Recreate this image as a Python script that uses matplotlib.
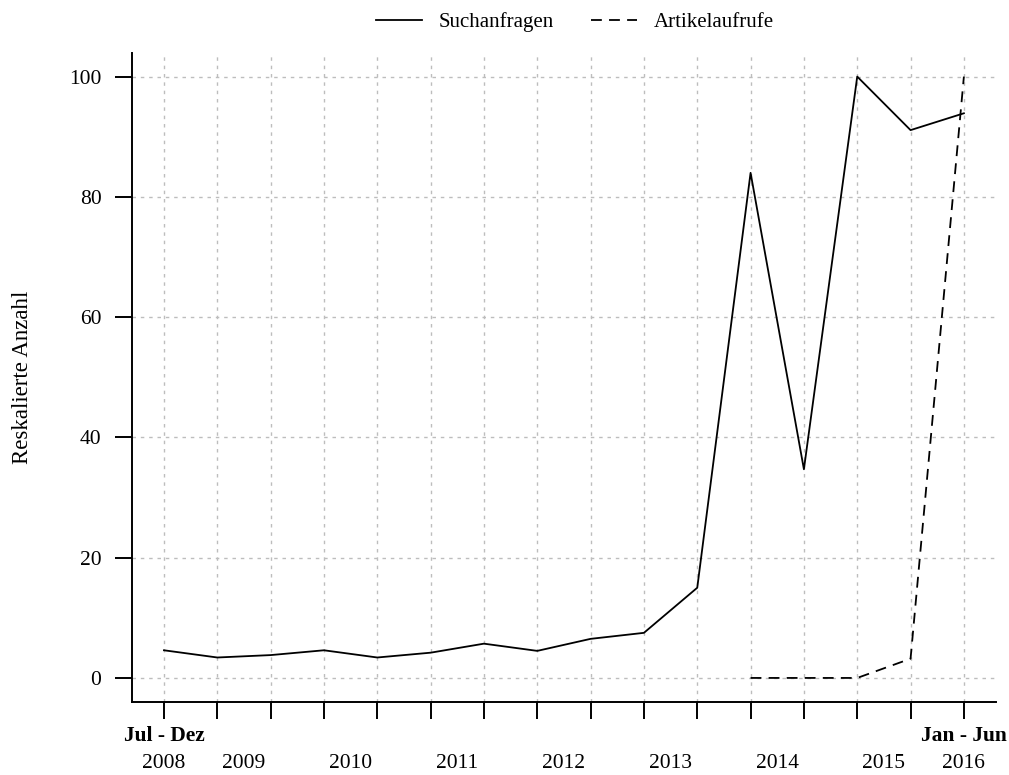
import matplotlib
matplotlib.use("Agg")
import matplotlib.pyplot as plt
import matplotlib.transforms as mtransforms

plt.rcParams['font.family'] = ['Liberation Serif', 'DejaVu Serif']

# half-year periods, Jul-Dez 2008 .. Jan-Jun 2016
perioden = list(range(16))
suchanfragen = [4.6, 3.4, 3.8, 4.6, 3.4, 4.2, 5.7, 4.5, 6.5, 7.5, 15.0, 84.0, 34.7, 100, 91.1, 93.9]
artikel_idx = [11, 12, 13, 14, 15]
artikelaufrufe = [0, 0, 0, 3.2, 100]

jahr_pos = [0, 1.5, 3.5, 5.5, 7.5, 9.5, 11.5, 13.5, 15]
jahr_labels = ["2008", "2009", "2010", "2011", "2012", "2013", "2014", "2015", "2016"]

fig = plt.figure(figsize=(10.09, 7.75), dpi=100)
ax = fig.add_axes([0.1308, 0.0942, 0.8562, 0.838])

grid_kw = dict(color="#bdbdbd", linestyle=(0, (2.5, 3.5)), linewidth=1.0, zorder=0)
for x in perioden:
    ax.axvline(x, **grid_kw)
for y in range(0, 101, 20):
    ax.axhline(y, **grid_kw)

ax.plot(perioden, suchanfragen, color="black", linewidth=1.3, label="Suchanfragen")
ax.plot(artikel_idx, artikelaufrufe, color="black", linewidth=1.3,
        linestyle=(0, (6, 4)), label="Artikelaufrufe")

ax.set_xlim(-0.6, 15.6)
ax.set_ylim(-4, 104)
ax.set_xticks(perioden)
ax.set_xticklabels([])
ax.set_yticks(range(0, 101, 20))
ax.tick_params(axis="both", direction="out", length=12, width=1.4, labelsize=15.5)
ax.tick_params(axis="y", pad=10)

for s in ["top", "right"]:
    ax.spines[s].set_visible(False)
for s in ["left", "bottom"]:
    ax.spines[s].set_linewidth(1.4)

trans = mtransforms.blended_transform_factory(ax.transData, ax.transAxes)
for p, lab in zip(jahr_pos, jahr_labels):
    ax.text(p, -0.095, lab, transform=trans, ha="center", va="center", fontsize=15.5)
ax.text(0, -0.053, "Jul - Dez", transform=trans, ha="center", va="center",
        fontsize=15.5, fontweight="bold")
ax.text(15, -0.053, "Jan - Jun", transform=trans, ha="center", va="center",
        fontsize=15.5, fontweight="bold")

ax.set_ylabel("Reskalierte Anzahl", fontsize=16.5, labelpad=26)

fig.legend(loc="upper center", bbox_to_anchor=(0.57, 1.008), ncol=2, frameon=False,
           fontsize=15, handlelength=2.2, handletextpad=0.8, columnspacing=1.8)

fig.savefig("out.png", dpi=100)
